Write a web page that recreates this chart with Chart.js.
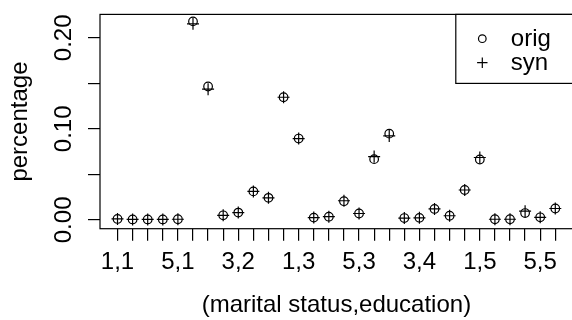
<!DOCTYPE html>
<html>
<head>
<meta charset="utf-8">
<script src="https://cdn.jsdelivr.net/npm/chart.js@4/dist/chart.umd.min.js"></script>
<style>
  html, body { margin: 0; padding: 0; background: #fff; overflow: hidden; }
  #grafica { display: block; }
</style>
</head>
<body>
<canvas id="grafica" width="580" height="320"></canvas>
<script>
// celdas (estado civil, educacion), el estado civil cambia primero
var categorias = [
  "1,1", "2,1", "3,1", "4,1", "5,1", "6,1",
  "1,2", "2,2", "3,2", "4,2", "5,2", "6,2",
  "1,3", "2,3", "3,3", "4,3", "5,3", "6,3",
  "1,4", "2,4", "3,4", "4,4", "5,4", "6,4",
  "1,5", "2,5", "3,5", "4,5", "5,5", "6,5"
];
var etiquetasX = ["1,1", "5,1", "3,2", "1,3", "5,3", "3,4", "1,5", "5,5"];

var valoresOrig = [
  0.0010, 0.0005, 0.0005, 0.0005, 0.0007, 0.2180,
  0.1465, 0.0050, 0.0080, 0.0313, 0.0242, 0.1347,
  0.0893, 0.0025, 0.0035, 0.0205, 0.0070, 0.0667,
  0.0947, 0.0020, 0.0022, 0.0120, 0.0045, 0.0328,
  0.0663, 0.0007, 0.0007, 0.0075, 0.0028, 0.0125
];
var valoresSyn = [
  0.0010, 0.0005, 0.0005, 0.0005, 0.0007, 0.2153,
  0.1436, 0.0050, 0.0080, 0.0313, 0.0242, 0.1347,
  0.0893, 0.0025, 0.0035, 0.0210, 0.0070, 0.0695,
  0.0922, 0.0020, 0.0022, 0.0120, 0.0045, 0.0328,
  0.0685, 0.0007, 0.0007, 0.0095, 0.0028, 0.0125
];

var ticksY = [0, 0.05, 0.10, 0.15, 0.20];
var etiquetasY = ["0.00", "", "0.10", "", "0.20"];

var fuente = { family: "'Liberation Sans', Arial, sans-serif", size: 24 };
var grosor = 1.2;

function puntos(valores) {
  return valores.map(function (v, i) { return { x: i + 1, y: v }; });
}

// caja alrededor del area de la grafica, como box() en R
var cajaGrafica = {
  id: 'cajaGrafica',
  afterDatasetsDraw: function (chart) {
    var a = chart.chartArea, ctx = chart.ctx;
    ctx.save();
    ctx.strokeStyle = '#000';
    ctx.lineWidth = grosor;
    ctx.strokeRect(a.left, a.top, a.right - a.left, a.bottom - a.top);
    ctx.restore();
  }
};

// leyenda arriba a la derecha, dentro del area
var leyenda = {
  id: 'leyenda',
  afterDraw: function (chart) {
    var a = chart.chartArea, ctx = chart.ctx;
    var izq = a.right - 117;
    ctx.save();
    ctx.strokeStyle = '#000';
    ctx.lineWidth = grosor;
    ctx.strokeRect(izq, a.top, a.right - izq, 69);
    chart.data.datasets.forEach(function (ds, k) {
      var base = a.top + 31.8 + k * 24;
      ctx.fillStyle = 'rgba(0,0,0,0)';
      Chart.helpers.drawPoint(ctx, {
        pointStyle: ds.pointStyle,
        radius: ds.pointStyle === 'circle' ? 3.8 : 5.2,
        borderWidth: grosor,
        rotation: 0
      }, izq + 26.5, base - 7.5);
      ctx.fillStyle = '#000';
      ctx.font = fuente.size + 'px ' + fuente.family;
      ctx.textBaseline = 'alphabetic';
      ctx.textAlign = 'left';
      ctx.fillText(ds.label, izq + 55, base);
    });
    ctx.restore();
  }
};

var config = {
  type: 'scatter',
  data: {
    datasets: [
      {
        label: 'orig',
        data: puntos(valoresOrig),
        pointStyle: 'circle',
        pointRadius: 4.3,
        borderColor: '#000',
        backgroundColor: 'rgba(0,0,0,0)',
        borderWidth: grosor
      },
      {
        label: 'syn',
        data: puntos(valoresSyn),
        pointStyle: 'cross',
        pointRadius: 6,
        borderColor: '#000',
        backgroundColor: 'rgba(0,0,0,0)',
        borderWidth: grosor
      }
    ]
  },
  options: {
    responsive: false,
    animation: false,
    events: [],
    layout: { padding: { top: 10.7, right: 5, left: 0, bottom: 0 } },
    plugins: {
      legend: { display: false },
      tooltip: { enabled: false }
    },
    scales: {
      x: {
        type: 'linear',
        min: -0.16,
        max: 31.16,
        afterBuildTicks: function (s) {
          s.ticks = categorias.map(function (c, i) { return { value: i + 1 }; });
        },
        afterFit: function (s) { s.height = 91.3; },
        grid: { drawOnChartArea: false, drawTicks: true, tickLength: 12, color: '#000', lineWidth: grosor },
        border: { display: false },
        ticks: {
          autoSkip: false,
          minRotation: 0,
          maxRotation: 0,
          padding: 7.3,
          color: '#000',
          font: fuente,
          callback: function (v) {
            var c = categorias[Math.round(v) - 1];
            return etiquetasX.indexOf(c) >= 0 && (Math.round(v) - 1) % 4 === 0 ? c : '';
          }
        },
        title: {
          display: true,
          text: '(marital status,education)',
          color: '#000',
          font: fuente,
          padding: { top: 0, bottom: 0.3 }
        }
      },
      y: {
        min: -0.0097,
        max: 0.2257,
        afterBuildTicks: function (s) {
          s.ticks = ticksY.map(function (v) { return { value: v }; });
        },
        afterFit: function (s) { s.width = 100; },
        grid: { drawOnChartArea: false, drawTicks: true, tickLength: 12, color: '#000', lineWidth: grosor },
        border: { display: false },
        ticks: {
          autoSkip: false,
          minRotation: 90,
          maxRotation: 90,
          crossAlign: 'center',
          padding: 0,
          color: '#000',
          font: fuente,
          callback: function (v, i) { return etiquetasY[i]; }
        },
        title: {
          display: true,
          text: 'percentage',
          color: '#000',
          font: fuente,
          padding: { top: 5.6, bottom: 0 }
        }
      }
    }
  },
  plugins: [cajaGrafica, leyenda]
};

var grafica = new Chart(document.getElementById('grafica'), config);
</script>
</body>
</html>
